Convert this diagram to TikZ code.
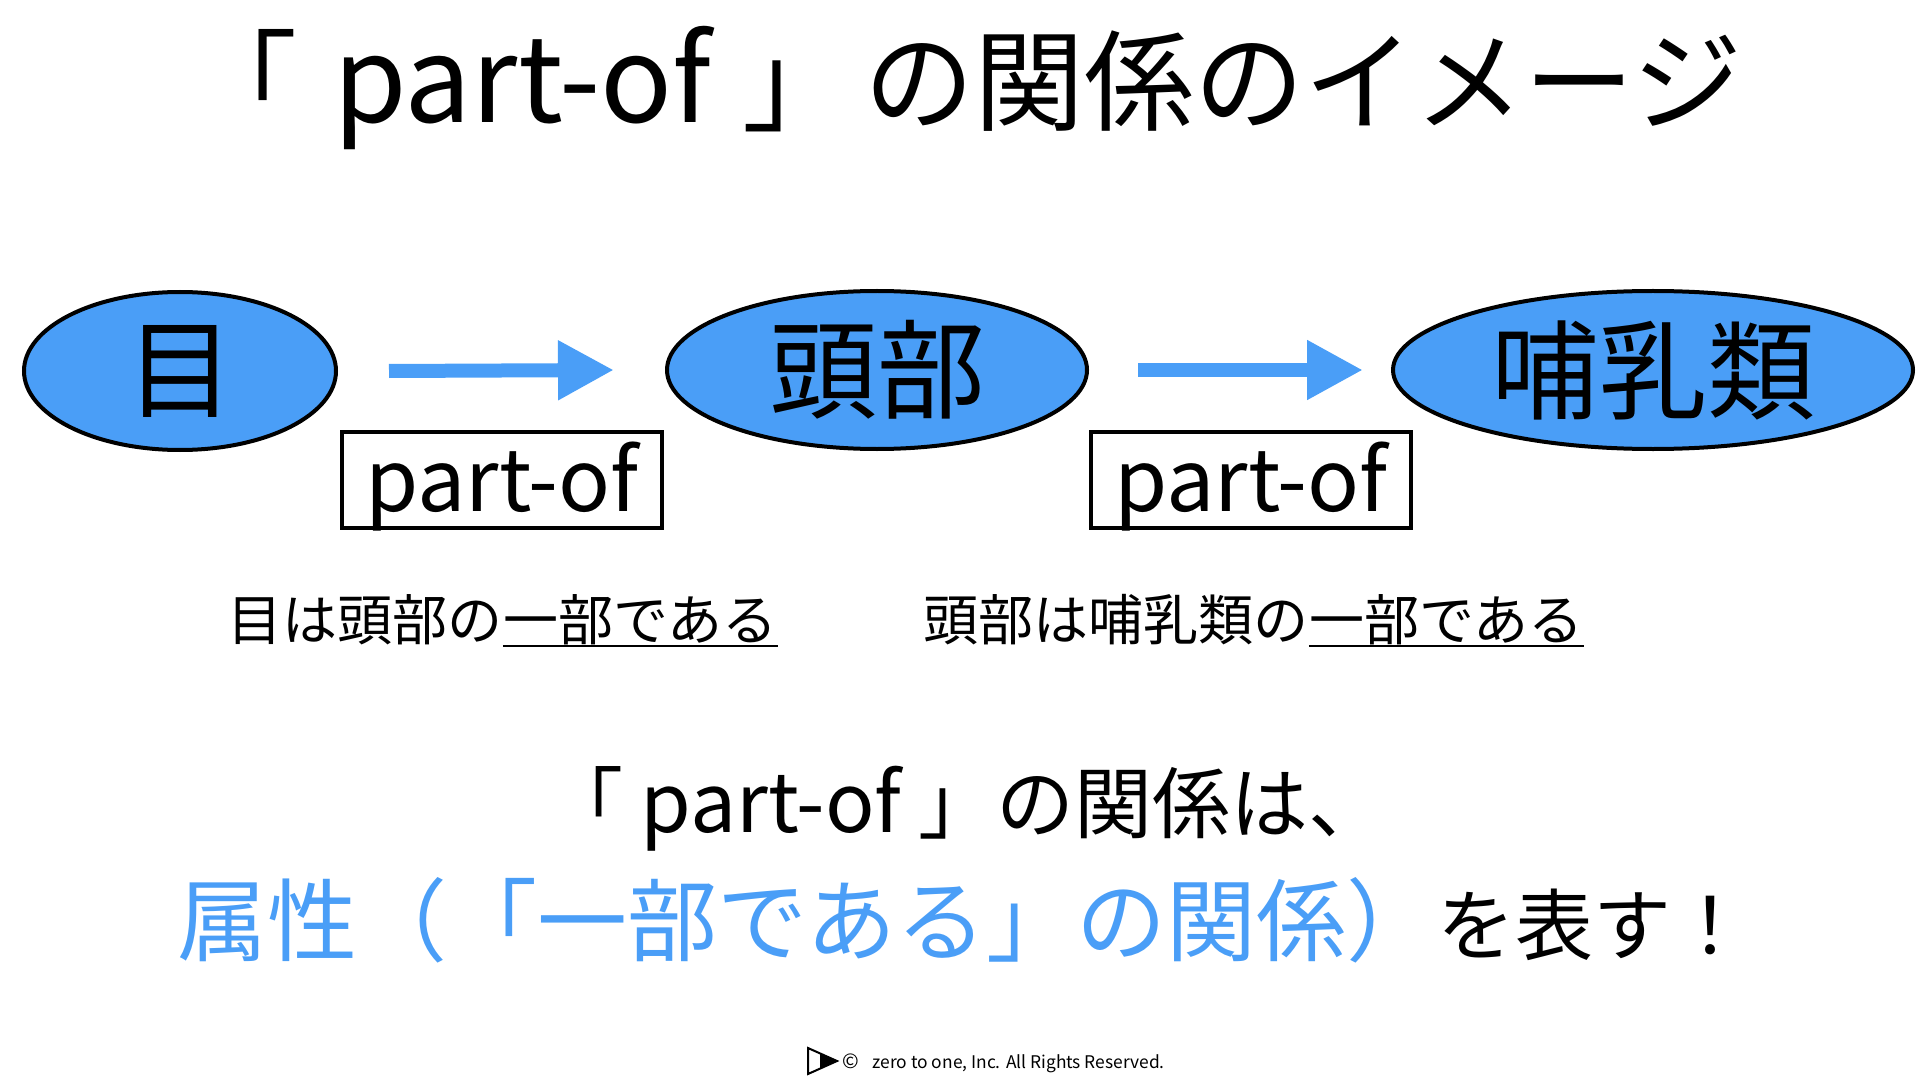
\documentclass[tikz,border=0pt]{standalone}
\usepackage{fontspec}
\setmainfont{Noto Sans CJK JP}
\usetikzlibrary{shapes.geometric,arrows.meta,positioning}
\definecolor{partblue}{RGB}{74,158,247}

\tikzset{
  thing/.style={ellipse,draw=black,line width=2pt,fill=partblue,inner sep=0pt,minimum height=79pt,font=\fontsize{54}{54}\selectfont},
  relbox/.style={draw=black,line width=2pt,minimum width=160pt,minimum height=48pt,inner sep=0pt,text depth=2.8pt,font=\fontsize{43}{43}\selectfont},
  flow/.style={partblue,line width=7pt,-{Triangle[length=28pt,width=28pt]}},
  sentence/.style={inner sep=0pt,font=\fontsize{27.5}{27.5}\selectfont},
  uline/.style={line width=1.2pt}
}

\begin{document}
\begin{tikzpicture}[x=0.5pt,y=-0.5pt]
\useasboundingbox (0,0) rectangle (1920,1080);

\node[anchor=base west,inner sep=0pt,font=\fontsize{55}{55}\selectfont] (title) at (187,123) {「\hspace{5.5pt} {\fontsize{59.5}{59.5}\selectfont part-of}\hspace{3pt} 」\hspace{6pt}の関係のイメージ};

\node[thing,minimum width=156pt] (eye) at (180,371) {目};
\node[thing,minimum width=210pt] (head) at (877,370) {頭部};
\node[thing,minimum width=260pt] (mammal) at (1653,370) {哺乳類};

\draw[flow] ([xshift=25.5pt]eye.east) -- ([xshift=-25.5pt]head.west);
\draw[flow] ([xshift=24.5pt]head.east) -- ([xshift=-14pt]mammal.west);

\node[relbox] (rel1) at (502,480) {part-of};
\node[relbox] (rel2) at (1251,480) {part-of};

\node[sentence,anchor=base west] (s1) at (227,640) {目は頭部の};
\node[sentence,base right=0pt of s1] (s1u) {一部である};
\draw[uline] ([yshift=-3pt]s1u.base west) -- ([yshift=-3pt]s1u.base east);

\node[sentence,anchor=base west] (s2) at (923,640) {頭部は哺乳類の};
\node[sentence,base right=0pt of s2] (s2u) {一部である};
\draw[uline] ([yshift=-3pt]s2u.base west) -- ([yshift=-3pt]s2u.base east);

\node[anchor=base,inner sep=0pt,font=\fontsize{39}{39}\selectfont] (sum1) at (966,832) {「 {\fontsize{41}{41}\selectfont part-of} 」の関係は、};
\node[anchor=base west,inner sep=0pt,font=\fontsize{45}{45}\selectfont,text=partblue] (sum2) at (177,954) {属性（「一部である」の関係）};
\node[base right=0pt of sum2,inner sep=0pt,font=\fontsize{39}{39}\selectfont] (sum3) {を表す！};

\draw[line width=1pt] (808,1048) -- (808,1074) -- (837,1061) -- cycle;
\fill (820,1053.5) -- (820,1068.5) -- (837,1061) -- cycle;
\node[anchor=base west,inner sep=0pt,font=\fontsize{10}{10}\selectfont] (copy) at (842,1068) {©};
\node[anchor=base west,inner sep=0pt,font=\fontsize{8.7}{8.7}\selectfont] (owner) at (872,1068) {zero to one, Inc. All Rights Reserved.};
\end{tikzpicture}
\end{document}
